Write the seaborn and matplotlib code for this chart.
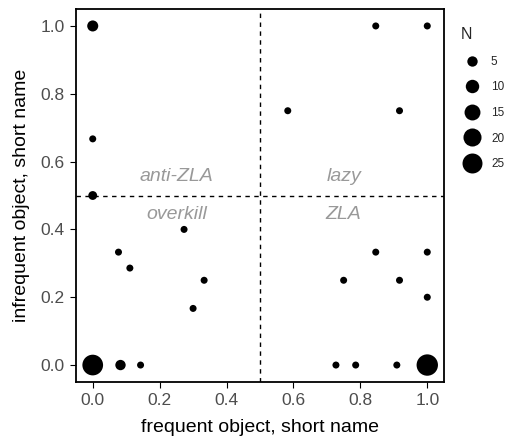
import matplotlib
matplotlib.use("Agg")
import matplotlib.pyplot as plt
import seaborn as sns
import pandas as pd

# data: proportion of short names for frequent vs infrequent objects
freq_short = [0.0, 0.0, 0.0, 0.077, 0.111, 0.273, 0.333, 0.3, 0.0, 0.083, 0.143,
              0.846, 1.0, 0.583, 0.917, 0.846, 1.0, 0.75, 0.917, 1.0,
              0.727, 0.786, 0.909, 1.0]
infreq_short = [1.0, 0.667, 0.5, 0.333, 0.286, 0.4, 0.25, 0.167, 0.0, 0.0, 0.0,
                1.0, 1.0, 0.75, 0.75, 0.333, 0.333, 0.25, 0.25, 0.2,
                0.0, 0.0, 0.0, 0.0]
N = [6, 1, 3, 1, 1, 1, 1, 1, 27, 5, 1,
     1, 1, 1, 1, 1, 1, 1, 1, 1,
     1, 1, 1, 29]

quad_labels = ["anti-ZLA", "lazy", "overkill", "ZLA"]
quad_x = [0.25, 0.75, 0.25, 0.75]
quad_y = [0.555, 0.555, 0.443, 0.443]

df = pd.DataFrame({"freq": freq_short, "infreq": infreq_short, "N": N})

sns.set_style("white")
plt.rcParams["font.family"] = ["Liberation Sans", "DejaVu Sans"]

fig = plt.figure(figsize=(5.15, 4.42), dpi=100)
ax = fig.add_axes([76 / 515, 1 - 382 / 442, (444 - 76) / 515, (382 - 9) / 442])

sns.scatterplot(data=df, x="freq", y="infreq", size="N", sizes=(25.4, 237),
                size_norm=(1, 29), color="black", linewidth=0, edgecolor="none",
                ax=ax, legend="brief", zorder=3)

ax.axvline(0.5, color="black", lw=1.0, linestyle=(0, (3.2, 3.2)), zorder=1)
ax.axhline(0.5, color="black", lw=1.0, linestyle=(0, (3.2, 3.2)), zorder=1)

for t, x, y in zip(quad_labels, quad_x, quad_y):
    ax.text(x, y, t, ha="center", va="center", style="italic",
            color="#999999", fontsize=14)

ax.set_xlim(-0.05, 1.05)
ax.set_ylim(-0.05, 1.05)
ticks = [0.0, 0.2, 0.4, 0.6, 0.8, 1.0]
ax.set_xticks(ticks)
ax.set_yticks(ticks)
ax.set_xticklabels([f"{t:.1f}" for t in ticks])
ax.set_yticklabels([f"{t:.1f}" for t in ticks])
ax.tick_params(axis="both", which="major", length=4, width=0.8, color="black",
               labelcolor="#4D4D4D", labelsize=12.5, pad=4, direction="out",
               bottom=True, left=True)
for s in ax.spines.values():
    s.set_visible(True)
    s.set_color("black")
    s.set_linewidth(1.3)

ax.set_xlabel("frequent object, short name", fontsize=14, color="black", labelpad=8)
ax.set_ylabel("infrequent object, short name", fontsize=14, color="black", labelpad=8)

sns.move_legend(ax, "upper left", bbox_to_anchor=(452 / 515, 1 - 19 / 442),
                bbox_transform=fig.transFigure, frameon=False, title="N",
                fontsize=8.5, title_fontsize=11.5, labelspacing=1.15,
                handletextpad=0.6, borderpad=0.2)
leg = ax.get_legend()
leg._legend_box.align = "left"

fig.savefig("out.png", dpi=100)
